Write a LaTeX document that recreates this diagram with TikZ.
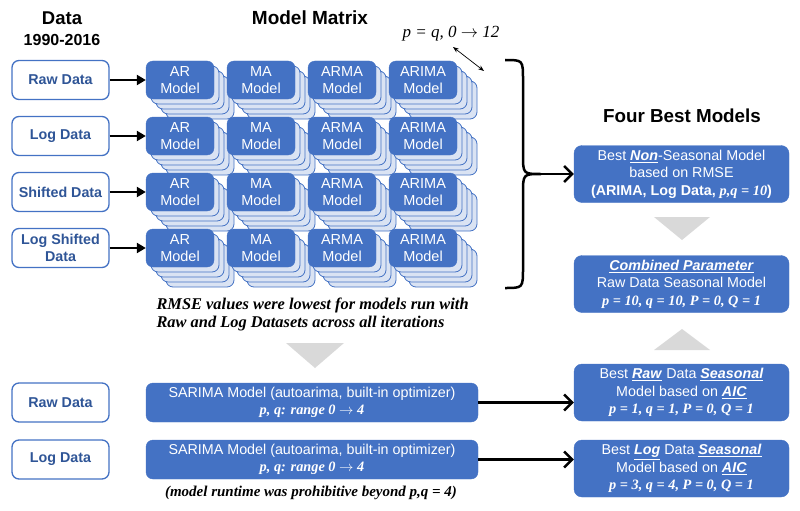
\documentclass[tikz,border=0pt]{standalone}
\usepackage{fontspec}
\setmainfont{Liberation Sans}
\newfontfamily\timesfont{Liberation Serif}
\usetikzlibrary{arrows.meta}
\definecolor{myblue}{RGB}{68,114,196}
\definecolor{darkblue}{RGB}{47,85,151}
\definecolor{paleblue}{RGB}{218,227,243}
\definecolor{trigrey}{RGB}{217,217,217}

\begin{document}
\begin{tikzpicture}[x=1pt,y=-1pt,
  title/.style={font=\bfseries\fontsize{18.5}{20}\selectfont},
  datain/.style={draw=myblue,line width=1.3pt,fill=white,rounded corners=7pt,minimum width=97pt,minimum height=39pt,inner sep=1pt,align=center,text=darkblue,font=\bfseries\fontsize{14.3}{16.5}\selectfont},
  model/.style={draw=myblue,fill=myblue,rounded corners=7pt,minimum width=68pt,minimum height=38pt,inner sep=1pt,align=center,text=white,font=\fontsize{14.5}{17}\selectfont},
  stackcopy/.style={draw=myblue,fill=paleblue,line width=0.8pt,rounded corners=7pt,minimum width=68pt,minimum height=38pt},
  best/.style={draw=myblue,fill=myblue,rounded corners=8pt,minimum width=215pt,minimum height=57pt,inner sep=1pt,align=center,text=white,font=\fontsize{14.3}{17.5}\selectfont},
  sarima/.style={draw=myblue,fill=myblue,rounded corners=7pt,minimum width=332pt,minimum height=39pt,inner sep=1pt,align=center,text=white,font=\fontsize{14.3}{17}\selectfont},
  note/.style={font=\timesfont\bfseries\itshape\fontsize{16.4}{18}\selectfont},
  feed/.style={-{Triangle[length=9pt,width=10pt]},line width=2.2pt},
  bigarrow/.style={-{Straight Barb[length=8pt,width=16pt]},line width=2.5pt},
  greytri/.style={fill=trigrey}]

  \useasboundingbox (0,0) rectangle (800,511);

  % titles
  \node[title] (tdata) at (62,18) {Data};
  \node[font=\bfseries\fontsize{16}{18}\selectfont] (tyears) at (62,40) {1990-2016};
  \node[title,font=\bfseries\fontsize{19}{21}\selectfont] (tmatrix) at (310,18) {Model Matrix};
  \node[title,font=\bfseries\fontsize{18.8}{20}\selectfont] (tbest) at (682,116) {Four Best Models};
  \node[font=\timesfont\itshape\fontsize{17}{19}\selectfont] (prange) at (451,34) {p = q, 0 \ensuremath{\rightarrow} 12};
  \coordinate (pa) at (453,47);
  \coordinate (pb) at (484,71);
  \draw[{Stealth[length=6pt]}-{Stealth[length=6pt]},line width=0.7pt] (pa) -- (pb);

  % model matrix, each box with its stack of copies
  \foreach \mname [count=\c] in {AR,MA,ARMA,ARIMA} {
    \foreach \r in {1,...,4} {
      \foreach \k in {4,3,2,1}
        \node[stackcopy] at ({180+81*(\c-1)+5*\k},{80+56*(\r-1)+5*\k}) {};
      \node[model] (m\r\c) at ({180+81*(\c-1)},{80+56*(\r-1)}) {\mname\\Model};
    }
  }

  % data sets
  \foreach \dname [count=\r] in {Raw Data,Log Data,Shifted Data,{Log Shifted\\Data}} {
    \node[datain] (d\r) at (60.5,{80+56*(\r-1)}) {\dname};
    \draw[feed] (d\r) -- (m\r1);
  }

  % four best models
  \node[best] (b1) at (681.5,174) {Best \underline{\textbf{\textit{Non}}}-Seasonal Model\\based on RMSE\\\textbf{(ARIMA, Log Data, {\timesfont\itshape p,q = 10})}};
  \node[best] (b2) at (681.5,284) {\underline{\textbf{\textit{Combined Parameter}}}\\Raw Data Seasonal Model\\{\timesfont\bfseries\itshape p = 10, q = 10, P = 0, Q = 1}};
  \node[best] (b3) at (681.5,392.5) {Best \underline{\textbf{\textit{Raw}}} Data \underline{\textbf{\textit{Seasonal}}}\\Model based on \underline{\textbf{\textit{AIC}}}\\{\timesfont\bfseries\itshape p = 1, q = 1, P = 0, Q = 1}};
  \node[best] (b4) at (681.5,468.5) {Best \underline{\textbf{\textit{Log}}} Data \underline{\textbf{\textit{Seasonal}}}\\Model based on \underline{\textbf{\textit{AIC}}}\\{\timesfont\bfseries\itshape p = 3, q = 4, P = 0, Q = 1}};

  % brace
  \coordinate (btop) at (505,60);
  \coordinate (bbot) at (505,288);
  \coordinate (btip) at (541,174);
  \draw[line width=2.5pt] (btop) .. controls (523,60) .. (523,80) -- (523,154)
     .. controls (523,174) .. (btip) .. controls (523,174) .. (523,194)
     -- (523,268) .. controls (523,288) .. (bbot);
  \draw[bigarrow] (btip) -- (b1.west);

  % grey triangles
  \fill[greytri] (654,217) -- (710,217) -- (682,240) -- cycle;
  \fill[greytri] (654,350) -- (710,350) -- (682,329) -- cycle;
  \fill[greytri] (286,343) -- (344,343) -- (315,368) -- cycle;

  \node[note,anchor=west,align=left] (rmse) at (153,314) {RMSE values were lowest for models run with\\Raw and Log Datasets across all iterations};

  % seasonal models
  \node[datain] (d5) at (60.5,402.5) {Raw Data};
  \node[datain] (d6) at (60.5,459.5) {Log Data};
  \node[sarima] (s1) at (312,402.5) {SARIMA Model (autoarima, built-in optimizer)\\{\timesfont\bfseries\itshape p, q: range 0 \ensuremath{\rightarrow} 4}};
  \node[sarima] (s2) at (312,459.5) {SARIMA Model (autoarima, built-in optimizer)\\{\timesfont\bfseries\itshape p, q: range 0 \ensuremath{\rightarrow} 4}};
  \draw[bigarrow] (s1.east) -- (s1.east -| b3.west);
  \draw[bigarrow] (s2.east) -- (s2.east -| b4.west);
  \node[note,font=\timesfont\bfseries\itshape\fontsize{15}{17}\selectfont] (runtime) at (311,493) {(model runtime was prohibitive beyond p,q = 4)};
\end{tikzpicture}
\end{document}
